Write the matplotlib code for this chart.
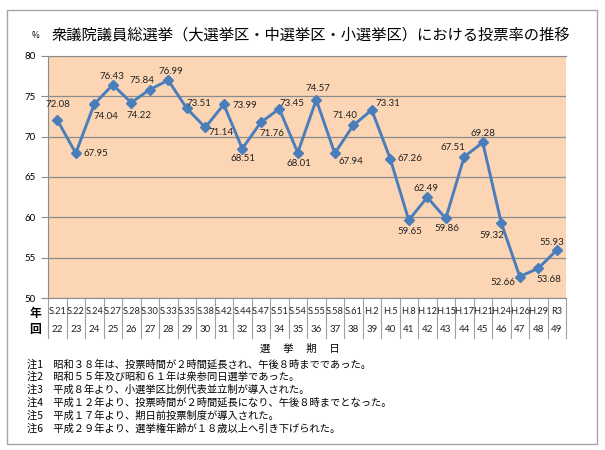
import matplotlib

matplotlib.use("Agg")
import matplotlib.pyplot as plt
import matplotlib.transforms as mtransforms
from matplotlib.patches import Rectangle

plt.rcParams["font.family"] = ["Noto Sans CJK JP", "DejaVu Sans"]

# data
years = ["S.21", "S.22", "S.24", "S.27", "S.28", "S.30", "S.33", "S.35", "S.38", "S.42",
         "S.44", "S.47", "S.51", "S.54", "S.55", "S.58", "S.61", "H.2", "H.5", "H.8",
         "H.12", "H.15", "H.17", "H.21", "H.24", "H.26", "H.29", "R3"]
sessions = list(range(22, 50))
turnout = [72.08, 67.95, 74.04, 76.43, 74.22, 75.84, 76.99, 73.51, 71.14, 73.99,
           68.51, 71.76, 73.45, 68.01, 74.57, 67.94, 71.40, 73.31, 67.26, 59.65,
           62.49, 59.86, 67.51, 69.28, 59.32, 52.66, 53.68, 55.93]
notes = [
    "注1　昭和３８年は、投票時間が２時間延長され、午後８時までであった。",
    "注2　昭和５５年及び昭和６１年は衆参同日選挙であった。",
    "注3　平成８年より、小選挙区比例代表並立制が導入された。",
    "注4　平成１２年より、投票時間が２時間延長になり、午後８時までとなった。",
    "注5　平成１７年より、期日前投票制度が導入された。",
    "注6　平成２９年より、選挙権年齢が１８歳以上へ引き下げられた。",
]

# label offsets in pixels (dx, dy), dy positive = up
label_off = [(1, 15), (20, 0), (12, -12), (-1, 8), (8, -13), (-8, 9), (3, 9), (12, 5),
             (16, -5), (21, -1), (1, -10), (11, -11), (13, 5), (1, -11), (2, 11), (16, -8),
             (-8, 10), (16, 6), (20, 0), (1, -11), (-1, 9), (1, -10), (-11, 9), (0, 9),
             (-9, -13), (-17, -6), (11, -11), (-5, 8)]

W, H = 605, 450
fig = plt.figure(figsize=(W / 100, H / 100), dpi=100)
fig.patches.append(Rectangle((7 / W, 1 - 444 / H), 590 / W, 434 / H, transform=fig.transFigure,
                             fill=False, edgecolor="#a6a6a6", lw=1.0))

ax = fig.add_axes([48 / W, 1 - 298 / H, 518 / W, 242 / H])
ax.set_facecolor("#fcd5b5")
x = list(range(len(turnout)))
ax.plot(x, turnout, color="#4a7ebb", lw=2.1, marker="D", ms=5.5, zorder=3)
for xi, v, (dx, dy) in zip(x, turnout, label_off):
    ax.annotate(f"{v:.2f}", (xi, v), xytext=(dx, dy), textcoords="offset pixels",
                ha="center", va="center", fontsize=7, family="Lato", color="#222222")

ax.set_xlim(-0.5, len(turnout) - 0.5)
ax.set_ylim(50, 80)
ax.set_yticks(range(50, 81, 5))
ax.tick_params(axis="y", length=5, color="#8c8c8c", labelsize=7, pad=4)
for lab in ax.get_yticklabels():
    lab.set_family("Lato")
ax.set_xticks([])
ax.grid(axis="y", color="#8c8c8c", lw=0.9)
ax.set_axisbelow(True)
for s in ["left", "top", "bottom"]:
    ax.spines[s].set_color("#8c8c8c")
ax.spines["right"].set_visible(False)

# table under the axis
trans = mtransforms.blended_transform_factory(ax.transData, ax.transAxes)
for i in range(len(turnout) + 1):
    ax.plot([i - 0.5, i - 0.5], [0, -0.165], transform=trans, color="#a0a0a0", lw=0.8,
            clip_on=False)
for xi, (yr, se) in enumerate(zip(years, sessions)):
    ax.text(xi, -0.054, yr, transform=trans, ha="center", va="center", fontsize=6.7,
            family="Lato", color="#222222")
    ax.text(xi, -0.132, str(se), transform=trans, ha="center", va="center", fontsize=7,
            family="Lato", color="#222222")
fig.text(35 / W, 1 - 313 / H, "年", ha="center", va="center", fontsize=8.5, weight="bold")
fig.text(35 / W, 1 - 330 / H, "回", ha="center", va="center", fontsize=8.5, weight="bold")
fig.text(300 / W, 1 - 349 / H, "選　 挙　 期　 日", ha="center", va="center", fontsize=7.5)

fig.text(36 / W, 1 - 35 / H, "%", ha="center", va="center", fontsize=6)
fig.text(311 / W, 1 - 35 / H, "衆議院議員総選挙（大選挙区・中選挙区・小選挙区）における投票率の推移",
         ha="center", va="center", fontsize=11)

for k, t in enumerate(notes):
    fig.text(27 / W, 1 - (364 + k * 12.9) / H, t, ha="left", va="center", fontsize=7.4)

fig.savefig("out.png", dpi=100)
